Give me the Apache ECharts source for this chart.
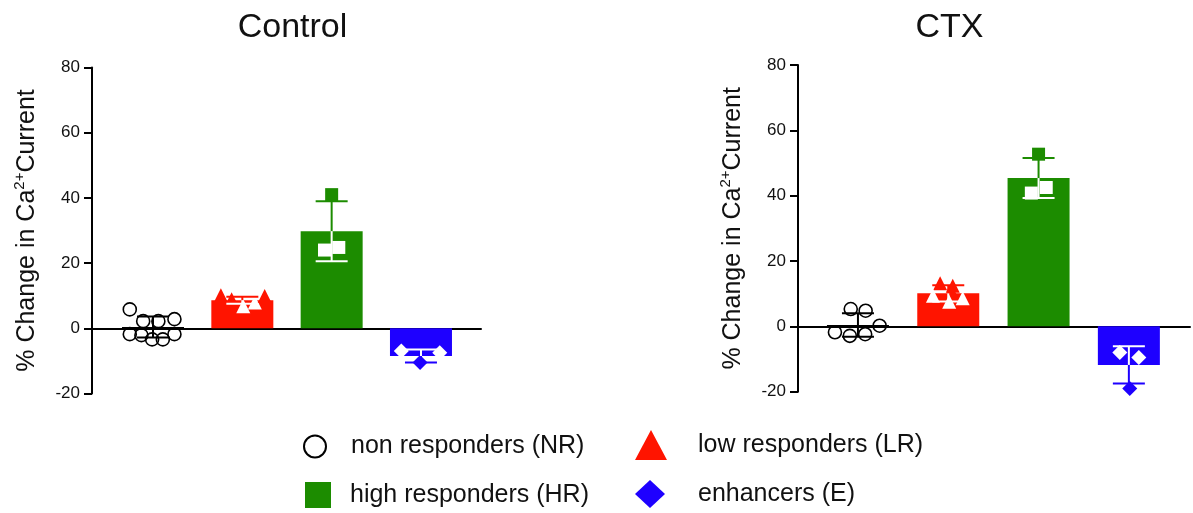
<!DOCTYPE html>
<html><head><meta charset="utf-8">
<script src="https://cdn.jsdelivr.net/npm/echarts@6/dist/echarts.min.js"></script>
<style>html,body{margin:0;padding:0;background:#fff}#c{width:1193px;height:513px}</style>
</head><body><div id="c"></div>
<script>
// ---- data ----
const categories = ['NR', 'LR', 'HR', 'E'];
const seriesNames = ['non responders (NR)', 'low responders (LR)', 'high responders (HR)', 'enhancers (E)'];
const panelTitles = ['Control', 'CTX'];
const yTicks = [-20, 0, 20, 40, 60, 80];

const controlMeans = [0.4, 8.6, 29.8, -8.5];
const controlSD = [3.2, 1.1, 9.2, 2.0];
const ctxMeans = [0.4, 10.1, 45.4, -11.8];
const ctxSD = [3.6, 2.5, 6.1, 5.7];

const controlNR = [5.8, 2.2, 2.2, 2.8, -1.8, -2.1, -3.4, -3.4, -1.8];
const controlNRJitter = [-0.26, -0.11, 0.06, 0.24, -0.26, -0.13, -0.01, 0.11, 0.24];
const controlLR = [10.1, 8.9, 6.8, 7.9, 9.9];
const controlLRJitter = [-0.24, -0.12, 0.01, 0.14, 0.25];
const controlHR = [41.0, 24.0, 24.8];
const controlHRJitter = [0.0, -0.08, 0.08];
const controlE = [-7.0, -10.5, -7.5];
const controlEJitter = [-0.22, -0.01, 0.21];

const ctxNR = [5.3, 4.8, 0.2, -1.8, -2.9, -2.4];
const ctxNRJitter = [-0.08, 0.085, 0.24, -0.255, -0.09, 0.08];
const ctxLR = [13.2, 12.4, 10.5, 9.4, 7.5, 8.6];
const ctxLRJitter = [-0.09, 0.05, 0.04, -0.17, 0.01, 0.16];
const ctxHR = [52.7, 40.8, 42.5];
const ctxHRJitter = [0.0, -0.08, 0.085];
const ctxE = [-8.0, -9.5, -19.0];
const ctxEJitter = [-0.1, 0.11, 0.01];

// ---- styles ----
const COLORS = ['#000000', '#ff1400', '#1c8c00', '#1e00ff'];
const SYMBOLS = ['circle', 'triangle', 'rect', 'diamond'];
const SYMBOL_SIZES = [13, 14, 13, 15];
const FONT = '"Liberation Sans", Arial, Helvetica, sans-serif';

const panels = [
  { means: controlMeans, sd: controlSD,
    pts: [controlNR, controlLR, controlHR, controlE],
    jit: [controlNRJitter, controlLRJitter, controlHRJitter, controlEJitter],
    grid: { left: 92, top: 67.5, width: 389, height: 326 },
    xmin: -0.683, xmax: 3.672, titleX: 292.5 },
  { means: ctxMeans, sd: ctxSD,
    pts: [ctxNR, ctxLR, ctxHR, ctxE],
    jit: [ctxNRJitter, ctxLRJitter, ctxHRJitter, ctxEJitter],
    grid: { left: 798, top: 65, width: 392, height: 326.7 },
    xmin: -0.664, xmax: 3.677, titleX: 949.5 }
];

const grids = [], xAxes = [], yAxes = [], series = [], graphics = [];

panels.forEach((p, pi) => {
  grids.push(Object.assign({ containLabel: false }, p.grid));
  xAxes.push({
    type: 'value', gridIndex: pi, min: p.xmin, max: p.xmax,
    axisLine: { show: true, onZero: true, lineStyle: { color: '#000', width: 2 } },
    axisTick: { show: false }, axisLabel: { show: false }, splitLine: { show: false }
  });
  yAxes.push({
    type: 'value', gridIndex: pi, min: yTicks[0], max: yTicks[yTicks.length - 1], interval: 20,
    axisLine: { show: true, onZero: false, lineStyle: { color: '#000', width: 2 } },
    axisTick: { show: true, inside: false, length: 8, lineStyle: { color: '#000', width: 2 } },
    axisLabel: { margin: 12, fontSize: 17, color: '#111', fontFamily: FONT },
    splitLine: { show: false },
    name: '% Change in Ca{sup|2+}Current', nameLocation: 'middle', nameGap: 50,
    nameTextStyle: {
      fontSize: 25, color: '#111', fontFamily: FONT, lineHeight: 30,
      rich: { sup: { fontSize: 15, color: '#111', fontFamily: FONT, verticalAlign: 'top', lineHeight: 30 } }
    }
  });
  // bars
  series.push({
    type: 'bar', name: 'bars' + pi, xAxisIndex: pi, yAxisIndex: pi, barWidth: 62, z: 2,
    data: categories.map((c, i) => ({ value: [i, p.means[i]], itemStyle: { color: COLORS[i], opacity: 1 } })),
    silent: true
  });
  // points
  categories.forEach((c, ci) => {
    const mean = p.means[ci];
    series.push({
      type: 'scatter', name: seriesNames[ci], xAxisIndex: pi, yAxisIndex: pi, z: 3,
      symbol: SYMBOLS[ci], symbolSize: SYMBOL_SIZES[ci],
      itemStyle: ci === 0 ? { color: 'rgba(0,0,0,0)', borderColor: '#000', borderWidth: 1.6, opacity: 1 } : { color: COLORS[ci], opacity: 1 },
      data: p.pts[ci].map((v, k) => {
        const inside = ci > 0 && ((mean > 0 && v >= 0 && v <= mean) || (mean < 0 && v <= 0 && v >= mean));
        return { value: [ci + p.jit[ci][k], v], itemStyle: inside ? { color: '#ffffff', opacity: 1 } : undefined };
      })
    });
  });
  // error bars (mean ± SD)
  series.push({
    type: 'custom', name: 'err' + pi, xAxisIndex: pi, yAxisIndex: pi, z: 4, silent: true,
    data: categories.map((c, i) => [i, p.means[i], p.sd[i]]),
    renderItem: function (params, api) {
      const i = params.dataIndex;
      const x = api.value(0), m = api.value(1), s = api.value(2);
      const hi = m + s, lo = m - s;
      const col = COLORS[i];
      const pM = api.coord([x, m]);
      const outV = m >= 0 ? hi : lo, inV = m >= 0 ? lo : hi;
      const pOut = api.coord([x, outV]), pIn = api.coord([x, inV]);
      const inside = (m > 0 && inV >= 0) || (m < 0 && inV <= 0);
      const inCol = (i > 0 && inside) ? '#ffffff' : col;
      const half = 16, w = 2;
      return { type: 'group', children: [
        { type: 'line', shape: { x1: pM[0], y1: pM[1], x2: pOut[0], y2: pOut[1] }, style: { stroke: col, lineWidth: w } },
        { type: 'line', shape: { x1: pOut[0] - half, y1: pOut[1], x2: pOut[0] + half, y2: pOut[1] }, style: { stroke: col, lineWidth: w } },
        { type: 'line', shape: { x1: pM[0], y1: pM[1], x2: pIn[0], y2: pIn[1] }, style: { stroke: inCol, lineWidth: w } },
        { type: 'line', shape: { x1: pIn[0] - half, y1: pIn[1], x2: pIn[0] + half, y2: pIn[1] }, style: { stroke: inCol, lineWidth: w } }
      ] };
    }
  });
  graphics.push({
    type: 'text', x: p.titleX, y: 28, silent: true,
    style: { text: panelTitles[pi], textAlign: 'center', textVerticalAlign: 'middle',
      fontSize: 34, fontFamily: FONT, fill: '#111' }
  });
});

const legendSpec = [
  { name: seriesNames[0], left: 303, top: 434, w: 22, h: 22, pad: 20, icon: 'circle',
    itemStyle: { color: '#ffffff', borderColor: '#000', borderWidth: 2, opacity: 1 } },
  { name: seriesNames[1], left: 635, top: 430, w: 32, h: 30, pad: 26, icon: 'triangle',
    itemStyle: { color: COLORS[1], borderWidth: 0, opacity: 1 } },
  { name: seriesNames[2], left: 305, top: 482, w: 26, h: 26, pad: 14, icon: 'rect',
    itemStyle: { color: COLORS[2], borderWidth: 0, opacity: 1 } },
  { name: seriesNames[3], left: 635, top: 480, w: 30, h: 28, pad: 28, icon: 'diamond',
    itemStyle: { color: COLORS[3], borderWidth: 0, opacity: 1 } }
];
const legends = legendSpec.map(l => ({
  left: l.left, top: l.top, itemWidth: l.w, itemHeight: l.h, padding: 0, selectedMode: false,
  data: [{ name: l.name, icon: l.icon, itemStyle: l.itemStyle }],
  textStyle: { fontSize: 25, color: '#111', fontFamily: FONT, padding: [0, 0, 0, l.pad] }
}));

const chart = echarts.init(document.getElementById('c'), null, { renderer: 'canvas' });
chart.setOption({
  animation: false,
  backgroundColor: '#ffffff',
  grid: grids, xAxis: xAxes, yAxis: yAxes, series: series,
  legend: legends, graphic: graphics, tooltip: { show: false }
});
</script></body></html>
